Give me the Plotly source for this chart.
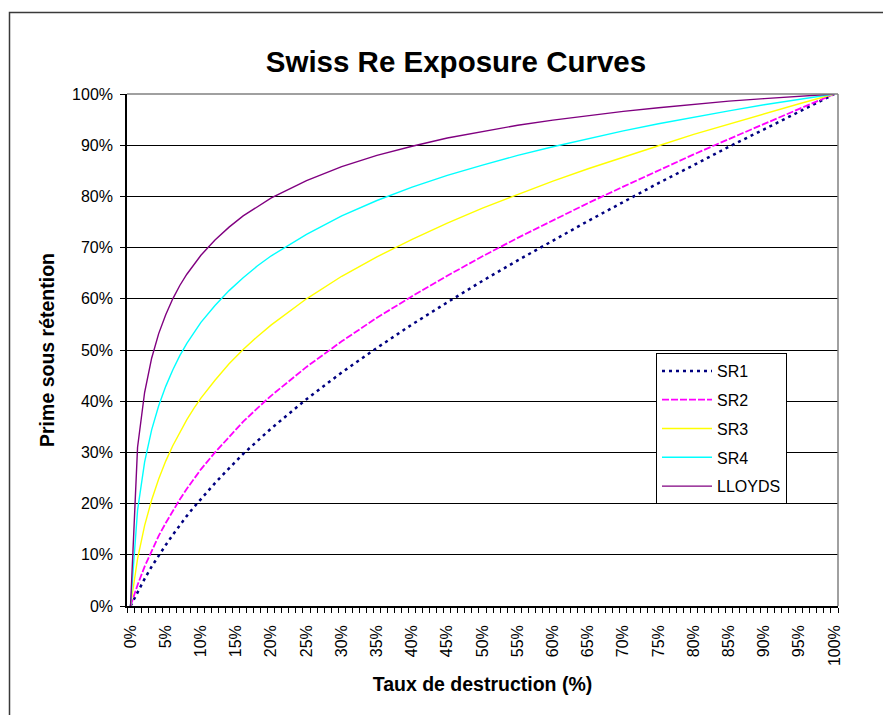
import plotly.graph_objects as go

# Taux de destruction (%)
x_pct = [0, 1, 2, 3, 4, 5, 6, 7, 8, 9, 10, 12, 14, 16, 18, 20, 25, 30, 35, 40,
         45, 50, 55, 60, 65, 70, 75, 80, 85, 90, 95, 100]

# Prime sous rétention (%)
sr1 = [0, 2.8, 5.3, 7.7, 9.9, 11.9, 13.9, 15.8, 17.6, 19.3, 20.9, 24.0, 26.9, 29.7, 32.2, 34.7,
       40.4, 45.6, 50.4, 55.0, 59.3, 63.5, 67.5, 71.4, 75.2, 78.9, 82.6, 86.1, 89.7, 93.1, 96.6, 100]
sr2 = [0, 4.1, 7.7, 10.8, 13.7, 16.2, 18.6, 20.8, 22.9, 24.8, 26.7, 30.0, 33.1, 36.0, 38.6, 41.1,
       46.7, 51.7, 56.3, 60.5, 64.5, 68.3, 71.9, 75.3, 78.7, 81.9, 85.1, 88.2, 91.2, 94.2, 97.1, 100]
sr3 = [0, 9.2, 15.7, 20.7, 24.8, 28.3, 31.3, 34.0, 36.4, 38.6, 40.6, 44.1, 47.3, 50.1, 52.6, 54.9,
       60.0, 64.4, 68.2, 71.6, 74.8, 77.7, 80.4, 83.0, 85.4, 87.7, 89.9, 92.1, 94.1, 96.2, 98.1, 100]
sr4 = [0, 18.7, 28.1, 34.4, 39.1, 42.9, 46.1, 48.9, 51.3, 53.4, 55.4, 58.7, 61.6, 64.1, 66.4, 68.4,
       72.6, 76.2, 79.2, 81.8, 84.1, 86.1, 88.0, 89.7, 91.3, 92.8, 94.2, 95.5, 96.7, 97.9, 99.0, 100]
lloyds = [0, 31.0, 41.7, 48.4, 53.2, 56.9, 60.0, 62.6, 64.8, 66.7, 68.5, 71.5, 74.0, 76.2, 78.0, 79.7,
          83.1, 85.8, 88.0, 89.8, 91.4, 92.7, 93.9, 94.9, 95.8, 96.6, 97.3, 98.0, 98.6, 99.1, 99.6, 100]

x_tick_vals = list(range(0, 101, 5))
x_tick_text = [f"{v}%" for v in x_tick_vals]
y_tick_vals = list(range(0, 101, 10))
y_tick_text = [f"{v}%" for v in y_tick_vals]

series = [
    ("SR1", sr1, "#000080", 2.5, "3px,4px"),
    ("SR2", sr2, "#FF00FF", 1.8, "7px,2px"),
    ("SR3", sr3, "#FFFF00", 1.4, "solid"),
    ("SR4", sr4, "#00FFFF", 1.4, "solid"),
    ("LLOYDS", lloyds, "#800080", 1.4, "solid"),
]

FONT = "Liberation Sans, Arial, sans-serif"

fig = go.Figure()
for name, vals, color, width, dash in series:
    fig.add_trace(go.Scatter(
        x=x_pct, y=vals, mode="lines", name=name, legendgroup=name,
        line=dict(color=color, width=width, dash=dash),
    ))

fig.update_layout(
    width=883, height=715,
    margin=dict(l=127, r=45, t=94, b=109),
    paper_bgcolor="white", plot_bgcolor="white",
    font=dict(family=FONT, size=16, color="black"),
    title=dict(text="<b>Swiss Re Exposure Curves</b>", font=dict(size=29.5, family=FONT, color="black"),
               x=(456 - 127) / 711, xref="paper", xanchor="center",
               y=1 - 62 / 715, yref="container", yanchor="middle"),
    showlegend=True,
    legend=dict(x=(656 - 127) / 711, y=(606 - 353) / 512, xanchor="left", yanchor="top",
                bordercolor="black", borderwidth=1, bgcolor="white",
                font=dict(size=16, family=FONT), tracegroupgap=5, itemwidth=50),
    xaxis=dict(
        range=[-0.5, 100.5], tickmode="array", tickvals=x_tick_vals, ticktext=x_tick_text,
        tickangle=-90, ticks="outside", ticklen=5, tickcolor="rgba(0,0,0,0)",
        ticklabelstandoff=6,
        minor=dict(ticks="outside", ticklen=5, tickcolor="black", tickwidth=1.3,
                   tickmode="linear", tick0=-0.5, dtick=1, showgrid=False),
        showline=True, linecolor="black", linewidth=1.6, showgrid=False, zeroline=False,
        title=dict(text="<b>Taux de destruction (%)</b>", font=dict(size=19.5, family=FONT), standoff=12),
    ),
    yaxis=dict(
        range=[0, 100], tickmode="array", tickvals=y_tick_vals, ticktext=y_tick_text,
        ticks="outside", ticklen=5, tickcolor="black", tickwidth=1.3, ticklabelstandoff=4,
        showline=True, linecolor="black", linewidth=1.6,
        showgrid=True, gridcolor="black", gridwidth=1.1, zeroline=False,
        title=dict(text="<b>Prime sous rétention</b>", font=dict(size=19.5, family=FONT), standoff=12),
    ),
    shapes=[
        dict(type="rect", xref="paper", yref="paper", x0=(9.5 - 127) / 711, x1=1.1,
             y0=-0.25, y1=(606 - 12.5) / 512, line=dict(color="#3a3a3a", width=1.5),
             fillcolor="rgba(0,0,0,0)", layer="below"),
        dict(type="line", xref="paper", yref="paper", x0=0, x1=1, y0=1, y1=1,
             line=dict(color="#808080", width=1.5), layer="above"),
        dict(type="line", xref="paper", yref="paper", x0=1, x1=1, y0=0, y1=1,
             line=dict(color="#808080", width=1.5), layer="above"),
    ],
)

fig.write_html("out.html")
